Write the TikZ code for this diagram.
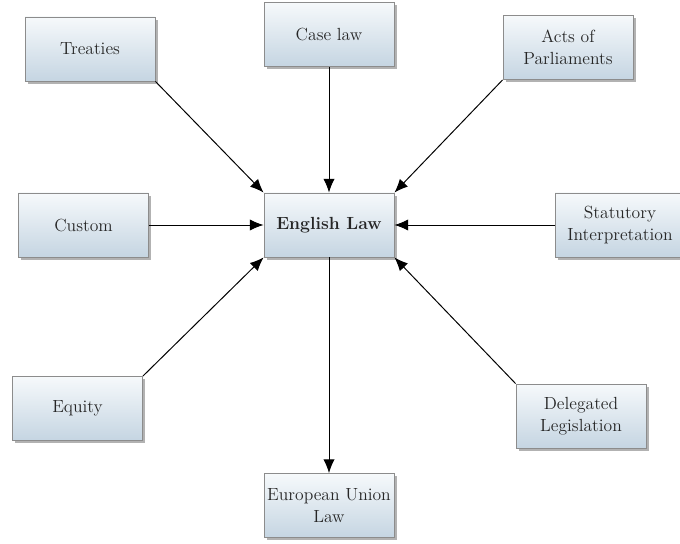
\documentclass[tikz,border=0pt]{standalone}
\usepackage{xcolor}
\usetikzlibrary{positioning, shadows, arrows.meta}
\definecolor{boxtop}{HTML}{F6F9FB}
\definecolor{boxbottom}{HTML}{C5D5E2}
\definecolor{boxline}{HTML}{8C8C8C}
\definecolor{boxtext}{HTML}{262626}

\begin{document}
\begin{tikzpicture}
				\tikzset{arrow/.style={-{Latex[length=0.34cm, width=0.28cm]}, black, line width=0.7pt}}
				\tikzset{source/.style={draw=boxline, line width=0.6pt, top color=boxtop, bottom color=boxbottom,
						minimum width=3.25cm, minimum height=1.6cm, align=center, text=boxtext,
						font=\fontsize{12.5}{16}\selectfont, inner sep=1pt,
						drop shadow={shadow xshift=2pt, shadow yshift=-2pt, fill=black, opacity=0.3}}}
				
				\useasboundingbox (0,0) rectangle (17,-13.6);

				\node (law) [source, font=\fontsize{12.5}{16}\selectfont\bfseries] at (8.225,-5.625) {English Law};
				
				\node (treaties) [source] at (2.25,-1.225) {Treaties};
				\node (caselaw) [source] at (8.225,-0.8625) {Case law};
				\node (acts) [source] at (14.2,-1.1875) {Acts of\\Parliaments};
				\node (custom) [source] at (2.0875,-5.625) {Custom};
				\node (statutory) [source] at (15.5,-5.625) {Statutory\\Interpretation};
				\node (equity) [source] at (1.9375,-10.2125) {Equity};
				\node (delegated) [source] at (14.525,-10.4) {Delegated\\Legislation};
				\node (eu) [source] at (8.225,-12.6375) {European Union\\Law};
				
				% sources into English law
				\draw[arrow] (treaties.south east) -- (law.north west);
				\draw[arrow] (caselaw) -- (law);
				\draw[arrow] (acts.south west) -- (law.north east);
				\draw[arrow] (custom) -- (law);
				\draw[arrow] (statutory) -- (law);
				\draw[arrow] (equity.north east) -- (law.south west);
				\draw[arrow] (delegated.north west) -- (law.south east);
				\draw[arrow] (law) -- (eu);
		
			\end{tikzpicture}
\end{document}
